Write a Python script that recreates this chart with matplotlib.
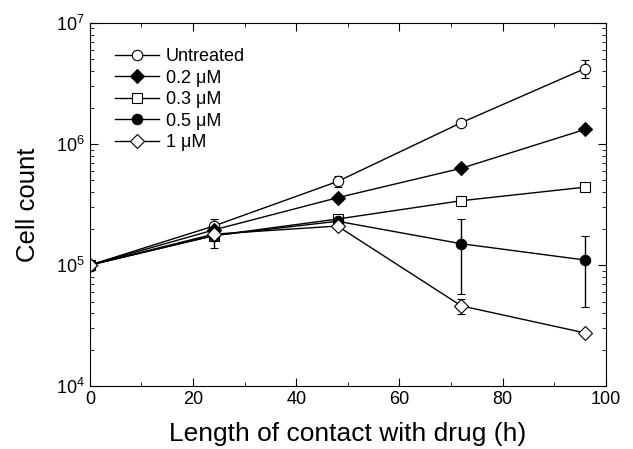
import numpy as np
import matplotlib.pyplot as plt
from matplotlib.ticker import LogLocator, MultipleLocator

plt.rcParams['font.family'] = ['Liberation Sans', 'DejaVu Sans']
plt.rcParams['mathtext.fontset'] = 'custom'
plt.rcParams['mathtext.rm'] = 'Liberation Sans'

hours = [0, 24, 48, 72, 96]
labels = ['Untreated', '0.2 \u03bcM', '0.3 \u03bcM', '0.5 \u03bcM', '1 \u03bcM']

untreated = [1.0e5, 2.1e5, 4.9e5, 1.5e6, 4.2e6]
untreated_err = [0, 0.3e5, 0.5e5, 0.05e6, 0.7e6]
c02 = [1.0e5, 1.95e5, 3.6e5, 6.3e5, 1.32e6]
c02_err = [0, 0.1e5, 0, 0, 0]
c03 = [1.0e5, 1.75e5, 2.4e5, 3.4e5, 4.4e5]
c03_err = [0, 0.1e5, 0, 0, 0]
c05 = [1.0e5, 1.75e5, 2.3e5, 1.5e5, 1.1e5]
c05_err = [0, 0.1e5, 0, 0.92e5, 0.65e5]
c1 = [1.0e5, 1.8e5, 2.1e5, 4.6e4, 2.75e4]
c1_err = [0, 0.42e5, 0, 0.65e4, 0]

# marker, face colour, size
series = [
    (untreated, untreated_err, 'o', 'white', 7.5),
    (c02, c02_err, 'D', 'black', 7),
    (c03, c03_err, 's', 'white', 7.5),
    (c05, c05_err, 'o', 'black', 7.5),
    (c1, c1_err, 'D', 'white', 7),
]

fig, ax = plt.subplots(figsize=(6.33, 4.49), dpi=100)
fig.subplots_adjust(left=0.142, right=0.957, top=0.949, bottom=0.140)

for (vals, err, m, fc, ms), lab in zip(series, labels):
    ax.errorbar(hours, vals, yerr=err, color='black', lw=1, marker=m,
                markerfacecolor=fc, markeredgecolor='black', markersize=ms,
                markeredgewidth=0.8, capsize=3, elinewidth=1, label=lab)

ax.set_yscale('log')
ax.set_xlim(0, 100)
ax.set_ylim(1e4, 1e7)
ax.xaxis.set_major_locator(MultipleLocator(20))
ax.xaxis.set_minor_locator(MultipleLocator(10))
ax.yaxis.set_major_locator(LogLocator(base=10, numticks=10))
ax.yaxis.set_minor_locator(LogLocator(base=10, subs=np.arange(2, 10), numticks=20))
ax.tick_params(which='both', direction='in', top=True, right=True, labelsize=13)
ax.tick_params(which='major', length=6)
ax.tick_params(which='minor', length=3)
for s in ax.spines.values():
    s.set_linewidth(0.8)

ax.set_xlabel('Length of contact with drug (h)', fontsize=19, labelpad=10)
ax.set_ylabel('Cell count', fontsize=18.5, labelpad=12)

handles, labs = ax.get_legend_handles_labels()
handles = [h[0] for h in handles]
ax.legend(handles, labs, loc='upper left', frameon=False, fontsize=13,
          handlelength=2.4, handletextpad=0.4, labelspacing=0.25,
          bbox_to_anchor=(0.018, 0.975))

fig.savefig('out.png', dpi=100)
